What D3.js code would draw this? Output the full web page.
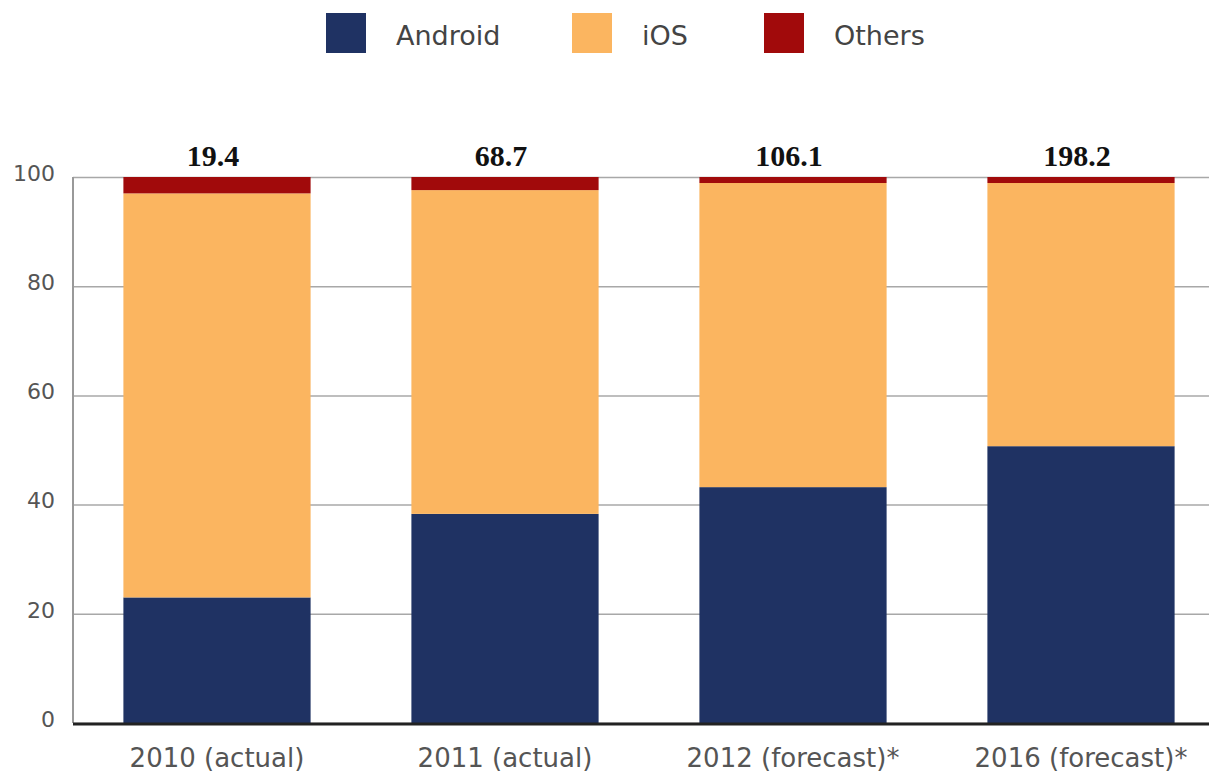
<!DOCTYPE html>
<html>
<head>
<meta charset="utf-8">
<script src="https://cdn.jsdelivr.net/npm/d3@7"></script>
<style>
  body { margin: 0; background: #fff; }
  svg { display: block; }
  .tick text { font-family: "DejaVu Sans", sans-serif; fill: #555; }
</style>
</head>
<body>
<div class="chart"></div>
<script>
/////////////
// Data
/////////////
var years = ['2010 (actual)', '2011 (actual)', '2012 (forecast)*', '2016 (forecast)*'];
var totals = ['19.4', '68.7', '106.1', '198.2'];
var series = ['Android', 'iOS', 'Others'];
var android = [23.0, 38.3, 43.2, 50.7];
var ios = [74.0, 59.3, 55.7, 48.2];
var others = [3.0, 2.4, 1.1, 1.1];
var yTicks = [0, 20, 40, 60, 80, 100];

var colors = ['#1f3263', '#fbb560', '#a10a0b'];

// rows for the stack
var rows = years.map(function(y, i) {
  return {year: y, Android: android[i], iOS: ios[i], Others: others[i]};
});

/////////////
// Setup
/////////////
var w = 1209, h = 780;
var mLeft = 73, mRight = 1225, mTop = 177, mBottom = 723;

var svg = d3.select('div.chart')
  .append('svg')
  .attr('width', w)
  .attr('height', h);

var x = d3.scaleBand()
  .domain(years)
  .range([mLeft, mRight])
  .paddingInner(0.35)
  .paddingOuter(0.175);

var y = d3.scaleLinear()
  .domain([0, 100])
  .range([mBottom, mTop]);

var color = d3.scaleOrdinal().domain(series).range(colors);

// gridlines + y labels
var yAxis = svg.append('g')
  .attr('transform', 'translate(' + mLeft + ',0)')
  .call(d3.axisLeft(y).tickValues(yTicks).tickSize(-(w - mLeft)).tickPadding(18));

yAxis.select('.domain').remove();
yAxis.selectAll('.tick line').attr('stroke', '#a8a8a8').attr('stroke-width', 1.5);
yAxis.selectAll('.tick text')
  .attr('font-size', '22px')
  .attr('dy', '0.15em');

// y axis vertical line
svg.append('line')
  .attr('x1', mLeft).attr('x2', mLeft)
  .attr('y1', y(100)).attr('y2', y(0))
  .attr('stroke', '#999').attr('stroke-width', 2);

/////////////
// Bars
/////////////
var stack = d3.stack().keys(series);

svg.append('g')
  .selectAll('g')
  .data(stack(rows))
  .enter()
  .append('g')
  .attr('fill', function(d) { return color(d.key); })
  .selectAll('rect')
  .data(function(d) { return d; })
  .enter()
  .append('rect')
  .attr('x', function(d) { return x(d.data.year); })
  .attr('width', x.bandwidth())
  .attr('y', function(d) { return y(d[1]); })
  .attr('height', function(d) { return y(d[0]) - y(d[1]); });

// baseline
svg.append('line')
  .attr('x1', mLeft).attr('x2', w)
  .attr('y1', y(0) + 1).attr('y2', y(0) + 1)
  .attr('stroke', '#222').attr('stroke-width', 3);

// x labels
svg.append('g')
  .selectAll('text')
  .data(years)
  .enter()
  .append('text')
  .attr('x', function(d) { return x(d) + x.bandwidth() / 2; })
  .attr('y', 767)
  .attr('text-anchor', 'middle')
  .attr('font-family', '"DejaVu Sans", sans-serif')
  .attr('font-size', '26px')
  .attr('fill', '#555')
  .text(function(d) { return d; });

// totals above bars
svg.append('g')
  .selectAll('text')
  .data(totals)
  .enter()
  .append('text')
  .attr('x', function(d, i) { return x(years[i]) + x.bandwidth() / 2 - 4; })
  .attr('y', 166)
  .attr('text-anchor', 'middle')
  .attr('font-family', '"Liberation Serif", serif')
  .attr('font-weight', 'bold')
  .attr('font-size', '30px')
  .attr('fill', '#111')
  .text(function(d) { return d; });

/////////////
// Legend
/////////////
var legendX = [326, 572, 764];

var legend = svg.append('g')
  .selectAll('g')
  .data(series)
  .enter()
  .append('g')
  .attr('transform', function(d, i) { return 'translate(' + legendX[i] + ',13)'; });

legend.append('rect')
  .attr('width', 40)
  .attr('height', 40)
  .attr('fill', function(d) { return color(d); });

legend.append('text')
  .attr('x', 70)
  .attr('y', 32)
  .attr('font-family', '"DejaVu Sans", sans-serif')
  .attr('font-size', '27px')
  .attr('fill', '#444')
  .text(function(d) { return d; });
</script>
</body>
</html>
